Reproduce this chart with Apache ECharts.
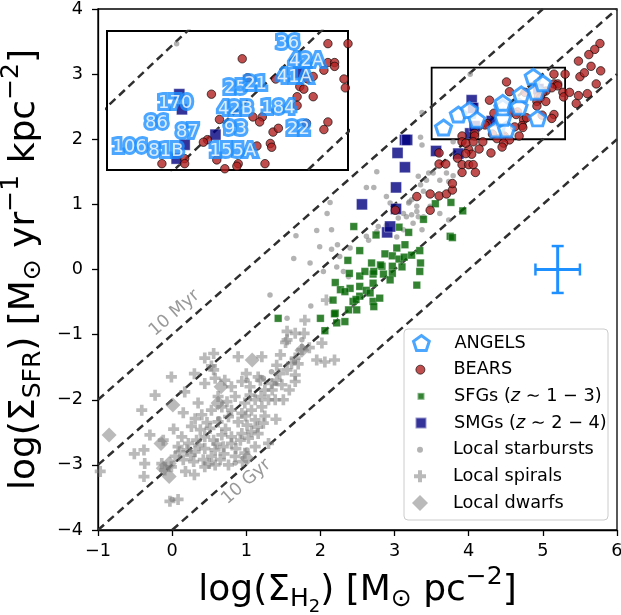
<!DOCTYPE html>
<html><head><meta charset="utf-8">
<script src="https://cdn.jsdelivr.net/npm/echarts@6/dist/echarts.min.js"></script>
<style>html,body{margin:0;padding:0;background:#fff}#c{width:621px;height:615px}</style>
</head><body><div id="c"></div><script>
// ---------- data ----------
const xTicks = [-1, 0, 1, 2, 3, 4, 5, 6];
const yTicks = [-4, -3, -2, -1, 0, 1, 2, 3, 4];

const angels = [[3.66,2.18],[3.86,2.38],[4.01,2.45],[4.11,2.30],[4.37,2.15],[4.51,2.15],[4.46,2.33],[4.46,2.49],[4.46,2.56],[4.68,2.50],[4.71,2.69],[4.87,2.96],[4.91,2.73],[5.00,2.86],[4.93,2.32]];
const angelLabels = ['36','42A','41A','25','21','170','42B','184','86','87','93','22','106','81B','155A'];
const angelLabelPos = [[4.85,3.00],[4.99,2.86],[4.90,2.73],[4.46,2.65],[4.61,2.68],[4.01,2.53],[4.46,2.48],[4.78,2.49],[3.87,2.37],[4.10,2.30],[4.46,2.32],[4.93,2.32],[3.67,2.18],[3.94,2.15],[4.44,2.15]];

const bears = [[4.51,2.88],[5.15,3.00],[5.30,3.00],[5.15,2.85],[5.20,2.85],[5.20,2.82],[5.12,2.79],[5.27,2.72],[5.28,2.65],[5.04,2.74],[5.00,2.72],[4.94,2.66],[4.97,2.64],[5.04,2.58],[4.92,2.58],[4.92,2.51],[4.76,2.72],[4.28,2.60],[4.59,2.42],[4.66,2.42],[4.64,2.38],[4.74,2.30],[4.78,2.33],[4.99,2.37],[5.15,2.38],[5.12,2.32],[4.72,2.21],[4.73,2.18],[4.62,2.19],[4.68,2.05],[4.48,2.05],[4.47,2.03],[4.38,2.01],[4.32,2.08],[4.25,2.24],[4.22,2.22],[3.91,2.05],[4.08,2.09],[4.08,2.05],[4.34,2.40],[4.55,2.73],
[5.50,2.96],[5.56,3.02],[5.36,2.72],[5.48,2.67],[4.55,1.99],[4.47,1.94],[4.19,1.96],[4.06,1.96],[3.91,1.96],[4.00,1.84],[4.04,1.77],[4.14,1.85],[4.30,1.79],[4.45,1.88],[3.60,1.79],
[5.77,3.47],[5.70,3.38],[5.62,3.30],[5.48,3.20],[5.45,2.55],[5.60,2.70],[5.72,2.85],[5.78,3.05],[5.65,3.12],
[3.01,0.91],[3.30,1.12],[3.48,1.16],[3.60,1.13],[3.70,1.16],[3.78,1.22],[3.78,1.32],[3.48,0.91],[3.60,1.62],[3.69,1.62],[3.96,1.94],[3.96,1.78],[3.85,1.71],[3.91,1.61],[4.00,1.61],[4.06,1.61],[3.91,1.49],[4.09,1.49]];

const sfgs = [[2.45,0.66],[2.75,0.53],[3.06,0.65],[3.19,0.57],[3.55,1.01],[3.39,0.77],[3.75,0.51],[3.76,1.03],[3.92,0.90],[3.78,0.49],[2.53,0.29],[2.37,0.14],[2.39,-0.06],[2.20,-0.20],[2.27,-0.31],[2.17,-0.47],[2.20,-0.67],[2.06,-0.94],[1.43,-0.75],[2.00,-0.75],[2.22,-0.82],[2.33,-0.80],[2.38,-0.62],[2.44,-0.49],[2.53,-0.41],[2.53,-0.26],[2.62,-0.32],[2.40,-0.29],[2.53,-0.10],[2.71,-0.07],[2.71,-0.21],[2.67,-0.36],[2.71,-0.49],[2.80,-0.44],[2.72,-0.57],[2.83,0.05],[2.87,0.24],[2.97,0.21],[3.03,0.33],[3.14,0.38],[3.06,0.16],[3.13,0.19],[3.23,0.22],[3.34,0.29],[3.35,0.10],[3.34,-0.03],[3.30,-0.24],[2.97,0.05],[2.97,-0.06],[2.85,-0.07],[2.94,-0.16],[2.81,0.07],[2.69,0.10],[2.72,-0.03],[2.60,-0.03],[3.10,0.04],[2.33,-0.34],[2.48,-0.46],[2.49,-0.62],[2.19,-0.68]];

const smgs = [[2.56,1.00],[2.90,0.57],[2.94,0.66],[3.02,0.93],[3.02,1.26],[3.04,1.79],[3.14,1.57],[3.14,1.99],[3.17,1.99],[3.56,1.82],[3.86,1.78],[4.02,2.09],[4.08,2.20],[4.04,2.60],[4.06,2.48],[4.31,2.28],[4.94,2.77]];

const starbursts = [[1.87,-0.56],[1.55,-0.75],[1.01,-1.70],[1.23,-1.67],[1.39,-1.75],[1.75,-1.08],[1.65,-1.42],[1.34,-1.57],[0.85,-2.97],[1.01,-2.77],[0.63,-2.29],[0.00,-3.53],
[1.99,0.35],[2.15,0.31],[1.64,0.17],[1.86,0.10],[1.32,-0.39],[2.04,-0.03],
[3.37,2.41],[2.76,1.50],[2.62,1.26],[2.72,1.26],[2.13,1.03],[2.09,0.86],[1.95,0.60],[1.67,0.52],[2.15,0.61],[2.23,0.38],[2.40,0.33],[2.62,0.51],[2.78,0.66],[2.89,1.12],[2.94,1.02],[3.20,1.04],[3.32,1.43],[3.35,1.30],[3.39,1.20],[3.12,0.86],[3.23,0.84],[3.32,0.81],[3.48,0.97],[3.30,0.97],[3.05,0.79],[2.89,0.68],[2.76,0.58],[2.65,0.45],[2.26,0.20],[2.22,0.04],[2.31,-0.03],[2.38,-0.11],
[3.35,2.03],[3.37,1.91],[3.79,1.96],[3.46,1.48],[3.79,1.44],[3.73,1.35],[3.19,1.02],[3.30,0.89],
[3.43,1.37],[3.52,1.48],[3.61,1.37],[3.70,1.48],[3.23,1.07],[3.39,0.81],[3.16,0.81],[3.25,0.71],[3.12,0.61],[3.03,0.50],[3.61,0.86],[3.73,0.76],[3.37,0.61],[4.02,3.00]];

const spirals = [[1.79,-0.78],[1.55,-0.95],[1.66,-0.98],[1.78,-0.98],[1.53,-1.12],[1.75,-1.23],[1.46,-1.31],[1.66,-1.36],[2.02,-1.13],[1.95,-1.39],[2.06,-1.42],[2.19,-1.39],[1.41,-1.47],[1.55,-1.54],[1.66,-1.62],[1.34,-1.75],[1.48,-1.77],[1.66,-1.72],[1.41,-1.70],[1.50,-2.00],[1.39,-2.00],[1.21,-1.34],[0.89,-1.34],[0.56,-1.29],[0.44,-1.36],[0.56,-1.54],[1.61,-1.44],[1.25,-1.85],[1.16,-1.65],
[0.17,-1.88],[0.44,-1.75],[0.58,-1.67],[0.71,-1.70],[0.80,-1.80],[0.94,-1.72],[1.05,-1.93],[0.85,-1.95],[0.74,-2.03],[0.98,-2.05],[1.12,-2.00],[1.21,-2.11],[1.30,-2.00],[1.07,-2.16],[0.94,-2.21],[0.80,-2.16],[0.67,-2.11],[0.53,-2.16],[0.40,-2.23],[0.31,-2.29],[0.26,-2.41],[0.38,-2.46],[0.51,-2.44],[0.62,-2.34],[0.76,-2.26],[0.89,-2.34],[1.01,-2.39],[1.12,-2.31],[1.23,-2.36],[1.07,-2.49],[0.94,-2.52],[0.80,-2.57],[0.67,-2.54],[0.56,-2.62],[0.44,-2.57],[0.33,-2.62],[0.22,-2.67],[0.13,-2.57],[0.08,-2.72],[0.20,-2.77],[0.31,-2.80],[0.44,-2.75],[0.58,-2.77],[0.69,-2.72],[0.80,-2.67],[0.92,-2.62],[1.03,-2.59],[1.16,-2.52],[0.04,-2.87],[0.15,-2.92],[0.29,-2.95],[0.42,-2.92],[0.53,-2.87],[0.65,-2.92],[0.76,-3.00],[0.85,-2.87],[0.98,-2.82],[1.12,-2.72],[1.30,-2.67],[-0.01,-3.03],[-0.10,-3.08],[-0.14,-2.98],[0.44,-3.03],[0.58,-3.00],
[-0.01,-1.65],[-0.23,-1.93],[-0.41,-2.16],[-0.30,-2.54],[-0.51,-2.83],[-0.38,-2.77],[-0.37,-2.98],[-0.38,-3.18],[-0.03,-3.56],[0.08,-3.53],[-0.97,-3.10],
[0.53,-1.48],[1.55,-1.08],[2.08,-0.47],[1.05,-1.80],[1.19,-1.70],
[0.35,-2.05],[0.62,-1.95],[0.47,-2.35],[0.72,-2.45],[0.99,-2.25],[1.15,-2.42],[0.86,-2.75],[0.60,-2.68],[0.36,-2.70],[0.25,-2.85],[0.10,-2.80],[0.50,-2.98],[0.70,-2.83],[0.95,-2.95],[1.25,-2.25],[1.35,-1.85],[1.45,-1.60],[1.20,-1.95],[1.00,-1.60],[0.30,-1.60],[0.15,-2.20],[0.02,-2.45],[-0.12,-2.62],[0.18,-3.10],[0.30,-3.15],[1.40,-2.30],[1.58,-1.85],[1.70,-1.45],[1.85,-1.20]];

const dwarfs = [[-0.85,-2.54],[0.01,-2.08],[-0.15,-2.67],[-0.04,-2.98],[-0.04,-3.18],[-0.12,-3.05],[1.08,-1.39],[0.66,-1.80],[0.62,-2.05],[1.01,-2.90],[1.75,-1.24]];

const line10Myr = [[-1,-2],[5,4]];
const line100Myr = [[-1,-3],[6,4]];
const line1Gyr = [[-1,-4],[6,3]];
const line10Gyr = [[0,-4],[6,2]];
const depletionLabels = ['10 Myr', '10 Gyr'];
const depletionLabelPos = [[0.03,-0.67],[1.00,-3.26]];

const errCross = [[5.2, 0.0, 0.30, 0.36]];   // x, y, xerr, yerr
const zoomBox = [[3.5, 5.3, 2.0, 3.1]];       // xmin, xmax, ymin, ymax

// ---------- chart ----------
const FF = 'DejaVu Sans';
const minus = v => String(v).replace('-', '\u2212');
const pentagon = 'path://M0,-1L0.951,-0.309L0.588,0.809L-0.588,0.809L-0.951,-0.309Z';
const plus = 'path://M1,0L2,0L2,1L3,1L3,2L2,2L2,3L1,3L1,2L0,2L0,1L1,1Z';
const gray = 'rgba(128,128,128,0.68)';
const BLUE = '#1e90ff';

const chart = echarts.init(document.getElementById('c'), null, {renderer: 'canvas'});

const titleRich = {
  m: {fontFamily: FF, fontSize: 36, color: '#000'},
  s: {fontFamily: FF, fontSize: 25, color: '#000', padding: [18, 0, 0, 0]},
  ss: {fontFamily: FF, fontSize: 18, color: '#000', padding: [33, 0, 0, 0]},
  sup: {fontFamily: FF, fontSize: 25, color: '#000', padding: [0, 0, 27, 0]}
};

function dashLine(data, ax) {
  return {type: 'line', data: data, xAxisIndex: ax, yAxisIndex: ax, symbol: 'none', silent: true, clip: true,
    lineStyle: {color: '#2f2f2f', width: 2.5, type: [8, 5]}, z: ax ? 4 : 2};
}
function scat(name, data, ax, symbol, size, style, z) {
  return {type: 'scatter', name: name, data: data, xAxisIndex: ax, yAxisIndex: ax, symbol: symbol, symbolSize: size,
    itemStyle: style, clip: true, silent: true, z: z};
}

const styles = {
  ANGELS: {color: '#fff', borderColor: BLUE, borderWidth: 3},
  BEARS: {color: '#b22222', borderColor: '#000', borderWidth: 0.8},
  SFGs: {color: '#006400', borderColor: 'rgba(255,255,255,0.5)', borderWidth: 0.6},
  SMGs: {color: '#000080', borderColor: 'rgba(255,255,255,0.6)', borderWidth: 0.8},
  star: {color: 'rgba(128,128,128,0.75)'},
  spiral: {color: gray},
  dwarf: {color: gray}
};

const legendItems = [
  {name: 'ANGELS', icon: pentagon, w: 16, h: 15, style: styles.ANGELS},
  {name: 'BEARS', icon: 'circle', w: 9, h: 9, style: styles.BEARS},
  {name: 'SFGs', icon: 'rect', w: 7, h: 7, style: {color: '#006400'}},
  {name: 'SMGs', icon: 'rect', w: 11, h: 11, style: {color: '#000080'}},
  {name: 'Local starbursts', icon: 'circle', w: 6, h: 6, style: styles.star},
  {name: 'Local spirals', icon: plus, w: 12, h: 12, style: styles.spiral},
  {name: 'Local dwarfs', icon: 'diamond', w: 16, h: 16, style: styles.dwarf}
];
const legendText = {
  'SFGs': '{r|SFGs (}{i|z}{r| \u223c 1 \u2212 3)}',
  'SMGs': '{r|SMGs (}{i|z}{r| \u223c 2 \u2212 4)}'
};

const axisBase = {
  axisLine: {show: true, onZero: false, lineStyle: {color: '#000', width: 1.3}},
  axisTick: {show: true, inside: false, length: 6, lineStyle: {color: '#000', width: 1.3}},
  splitLine: {show: false}
};

const option = {
  animation: false,
  backgroundColor: '#fff',
  grid: [
    {left: 98, top: 9, width: 519, height: 521, containLabel: false, outerBoundsMode: 'none',
      show: true, borderColor: '#000', borderWidth: 1.3, backgroundColor: 'transparent'},
    {left: 107, top: 31, width: 241, height: 139, containLabel: false, outerBoundsMode: 'none',
      show: true, borderColor: '#000', borderWidth: 2, backgroundColor: '#fff', z: 3}
  ],
  xAxis: [
    Object.assign({type: 'value', gridIndex: 0, min: xTicks[0], max: xTicks[xTicks.length - 1], interval: 1,
      axisLabel: {fontFamily: FF, fontSize: 17.7, color: '#000', margin: 12, formatter: minus},
      name: '{m|log(\u03a3}{s|H}{ss|2}{m|) [M}{s|\u2299}{m| pc}{sup|\u22122}{m|]}',
      nameLocation: 'middle', nameGap: 28,
      nameTextStyle: {fontFamily: FF, fontSize: 36, color: '#000', rich: titleRich}}, axisBase),
    {type: 'value', gridIndex: 1, min: zoomBox[0][0], max: zoomBox[0][1], show: false, splitLine: {show: false}}
  ],
  yAxis: [
    Object.assign({type: 'value', gridIndex: 0, min: yTicks[0], max: yTicks[yTicks.length - 1], interval: 1,
      axisLabel: {fontFamily: FF, fontSize: 17.7, color: '#000', margin: 15, formatter: minus},
      name: '{m|log(\u03a3}{s|SFR}{m|) [M}{s|\u2299}{m| yr}{sup|\u22121}{m| kpc}{sup|\u22122}{m|]}',
      nameLocation: 'middle', nameGap: 34, nameRotate: 90,
      nameTextStyle: {fontFamily: FF, fontSize: 36, color: '#000', rich: titleRich}}, axisBase),
    {type: 'value', gridIndex: 1, min: zoomBox[0][2], max: zoomBox[0][3], show: false, splitLine: {show: false}}
  ],
  legend: legendItems.map((it, i) => ({
    show: true, selectedMode: false, orient: 'vertical', padding: 0, itemGap: 0, z: 6,
    left: 420 - it.w / 2, top: 343 + i * 26.67 - 11,
    itemWidth: it.w, itemHeight: it.h,
    data: [{name: it.name, icon: it.icon, itemStyle: it.style}],
    formatter: n => legendText[n] || ('{r|' + n + '}'),
    textStyle: {fontFamily: FF, fontSize: 17.7, color: '#000', lineHeight: 22, padding: [0, 0, 0, 28 - it.w / 2],
      rich: {r: {fontFamily: FF, fontSize: 17.7, color: '#000'}, i: {fontFamily: FF, fontSize: 17.7, color: '#000', fontStyle: 'italic'}}}
  })),
  graphic: [{type: 'rect', shape: {x: 404, y: 329, width: 204, height: 191, r: 4}, z: 5,
    style: {fill: 'rgba(255,255,255,0.8)', stroke: '#cccccc', lineWidth: 1}}],
  series: [
    // main panel
    scat('Local spirals', spirals, 0, plus, 11, styles.spiral, 2),
    scat('Local dwarfs', dwarfs, 0, 'diamond', 15, styles.dwarf, 2),
    scat('Local starbursts', starbursts, 0, 'circle', 5.5, styles.star, 2),
    dashLine(line10Myr, 0), dashLine(line100Myr, 0), dashLine(line1Gyr, 0), dashLine(line10Gyr, 0),
    scat('SFGs', sfgs, 0, 'rect', 7.5, styles.SFGs, 2),
    scat('SMGs', smgs, 0, 'rect', 11, styles.SMGs, 2),
    scat('BEARS', bears, 0, 'circle', 8.5, styles.BEARS, 2),
    scat('ANGELS', angels, 0, pentagon, [16, 15], styles.ANGELS, 2),
    {type: 'scatter', xAxisIndex: 0, yAxisIndex: 0, silent: true, symbolSize: 1, itemStyle: {color: 'transparent'},
      data: depletionLabels.map((t, i) => ({name: t, value: depletionLabelPos[i]})),
      label: {show: true, position: 'inside', formatter: '{b}', rotate: 41.3, fontFamily: FF, fontSize: 17.5, color: '#808080'}, z: 2},
    {type: 'custom', xAxisIndex: 0, yAxisIndex: 0, silent: true, data: errCross, z: 2,
      renderItem: function (params, api) {
        const x = api.value(0), y = api.value(1), ex = api.value(2), ey = api.value(3);
        const L = api.coord([x - ex, y]), R = api.coord([x + ex, y]), T = api.coord([x, y + ey]), B = api.coord([x, y - ey]);
        const st = {stroke: BLUE, lineWidth: 3}, cs = {stroke: BLUE, lineWidth: 2.5}, c = 6;
        return {type: 'group', children: [
          {type: 'line', shape: {x1: L[0], y1: L[1], x2: R[0], y2: R[1]}, style: st},
          {type: 'line', shape: {x1: T[0], y1: T[1], x2: B[0], y2: B[1]}, style: st},
          {type: 'line', shape: {x1: L[0], y1: L[1] - c, x2: L[0], y2: L[1] + c}, style: cs},
          {type: 'line', shape: {x1: R[0], y1: R[1] - c, x2: R[0], y2: R[1] + c}, style: cs},
          {type: 'line', shape: {x1: T[0] - c, y1: T[1], x2: T[0] + c, y2: T[1]}, style: cs},
          {type: 'line', shape: {x1: B[0] - c, y1: B[1], x2: B[0] + c, y2: B[1]}, style: cs}
        ]};
      }},
    {type: 'custom', xAxisIndex: 0, yAxisIndex: 0, silent: true, data: zoomBox, z: 2,
      renderItem: function (params, api) {
        const a = api.coord([api.value(0), api.value(3)]), b = api.coord([api.value(1), api.value(2)]);
        return {type: 'rect', shape: {x: a[0], y: a[1], width: b[0] - a[0], height: b[1] - a[1]},
          style: {fill: 'none', stroke: '#000', lineWidth: 1.8}};
      }},
    // inset panel
    dashLine(line10Myr, 1), dashLine(line100Myr, 1), dashLine(line1Gyr, 1), dashLine(line10Gyr, 1),
    scat('Local starbursts', starbursts, 1, 'circle', 5.5, styles.star, 5),
    scat('SMGs', smgs, 1, 'rect', 11, styles.SMGs, 5),
    scat('BEARS', bears, 1, 'circle', 8.5, styles.BEARS, 5),
    {type: 'scatter', xAxisIndex: 1, yAxisIndex: 1, silent: true, symbolSize: 1, itemStyle: {color: 'transparent'}, z: 6,
      data: angelLabels.map((t, i) => ({name: t, value: angelLabelPos[i]})),
      label: {show: true, position: 'inside', formatter: '{b}', fontFamily: FF, fontSize: 18, color: '#fff',
        textBorderColor: BLUE, textBorderWidth: 6}}
  ]
};
chart.setOption(option);
</script></body></html>
